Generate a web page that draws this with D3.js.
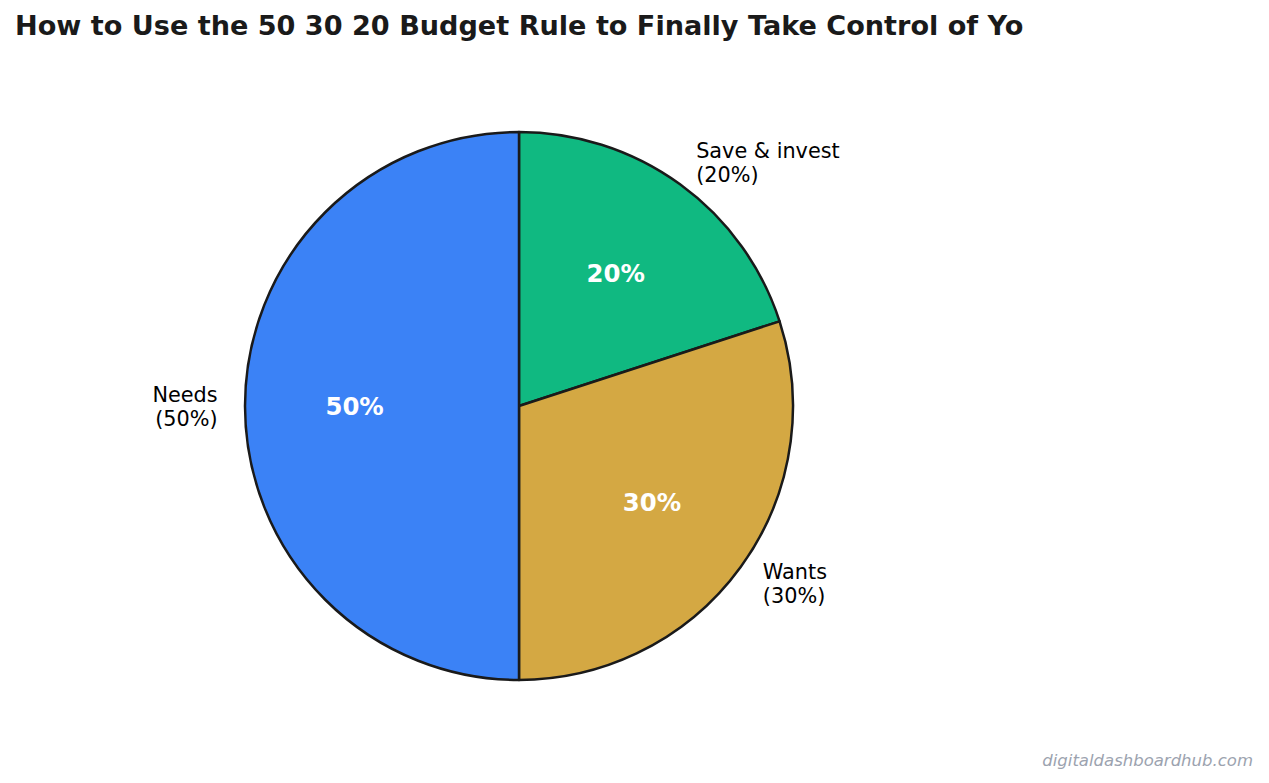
<!DOCTYPE html>
<html>
<head>
<meta charset="utf-8">
<script src="https://cdn.jsdelivr.net/npm/d3@7"></script>
<style>
  body { margin: 0; background: #fff; }
  svg { display: block; font-family: "DejaVu Sans", sans-serif; }
</style>
</head>
<body>
<script>
// data
const categories = ["Save & invest", "Wants", "Needs"];
const shares = [20, 30, 50];
const colors = ["#10B981", "#D4A843", "#3B82F6"];

const w = 1269;
const h = 783;
const cx = 519;
const cy = 406;
const radius = 274;

const svg = d3.select("body").append("svg").attr("width", w).attr("height", h);

// title
svg
  .append("text")
  .attr("x", 15)
  .attr("y", 35)
  .text("How to Use the 50 30 20 Budget Rule to Finally Take Control of Yo")
  .style("font-size", "27.1px")
  .style("font-weight", "bold")
  .style("fill", "#1a1a1a");

const data = categories.map((c, i) => ({ name: c, value: shares[i], color: colors[i] }));

const pie = d3.pie().sort(null).value((d) => d.value);
const arcs = pie(data);

const arc = d3.arc().innerRadius(0).outerRadius(radius);
const innerArc = d3.arc().innerRadius(radius * 0.6).outerRadius(radius * 0.6);
const outerArc = d3.arc().innerRadius(radius * 1.1).outerRadius(radius * 1.1);

const g = svg.append("g").attr("transform", `translate(${cx},${cy})`);

// slices
g.selectAll("path")
  .data(arcs)
  .enter()
  .append("path")
  .attr("d", arc)
  .style("fill", (d) => d.data.color)
  .style("stroke", "#1a1a1a")
  .style("stroke-width", 2.5)
  .style("stroke-linejoin", "round");

// percentages inside
g.selectAll(".pct")
  .data(arcs)
  .enter()
  .append("text")
  .attr("class", "pct")
  .attr("transform", (d) => `translate(${innerArc.centroid(d)})`)
  .attr("dy", "0.36em")
  .attr("text-anchor", "middle")
  .text((d) => d.data.value + "%")
  .style("font-size", "24.4px")
  .style("font-weight", "bold")
  .style("fill", "#fff");

// outer labels
const labels = g
  .selectAll(".lbl")
  .data(arcs)
  .enter()
  .append("text")
  .attr("class", "lbl")
  .attr("transform", (d) => `translate(${outerArc.centroid(d)})`)
  .attr("text-anchor", (d) => (outerArc.centroid(d)[0] < 0 ? "end" : "start"))
  .style("font-size", "20.8px")
  .style("fill", "#000");

labels
  .append("tspan")
  .attr("x", 0)
  .attr("y", -4.5)
  .text((d) => d.data.name);
labels
  .append("tspan")
  .attr("x", 0)
  .attr("y", 19.5)
  .text((d) => "(" + d.data.value + "%)");

// watermark
svg
  .append("text")
  .attr("x", 1253)
  .attr("y", 766)
  .attr("text-anchor", "end")
  .text("digitaldashboardhub.com")
  .style("font-size", "16.5px")
  .style("font-style", "italic")
  .style("fill", "#9CA3AF");
</script>
</body>
</html>
